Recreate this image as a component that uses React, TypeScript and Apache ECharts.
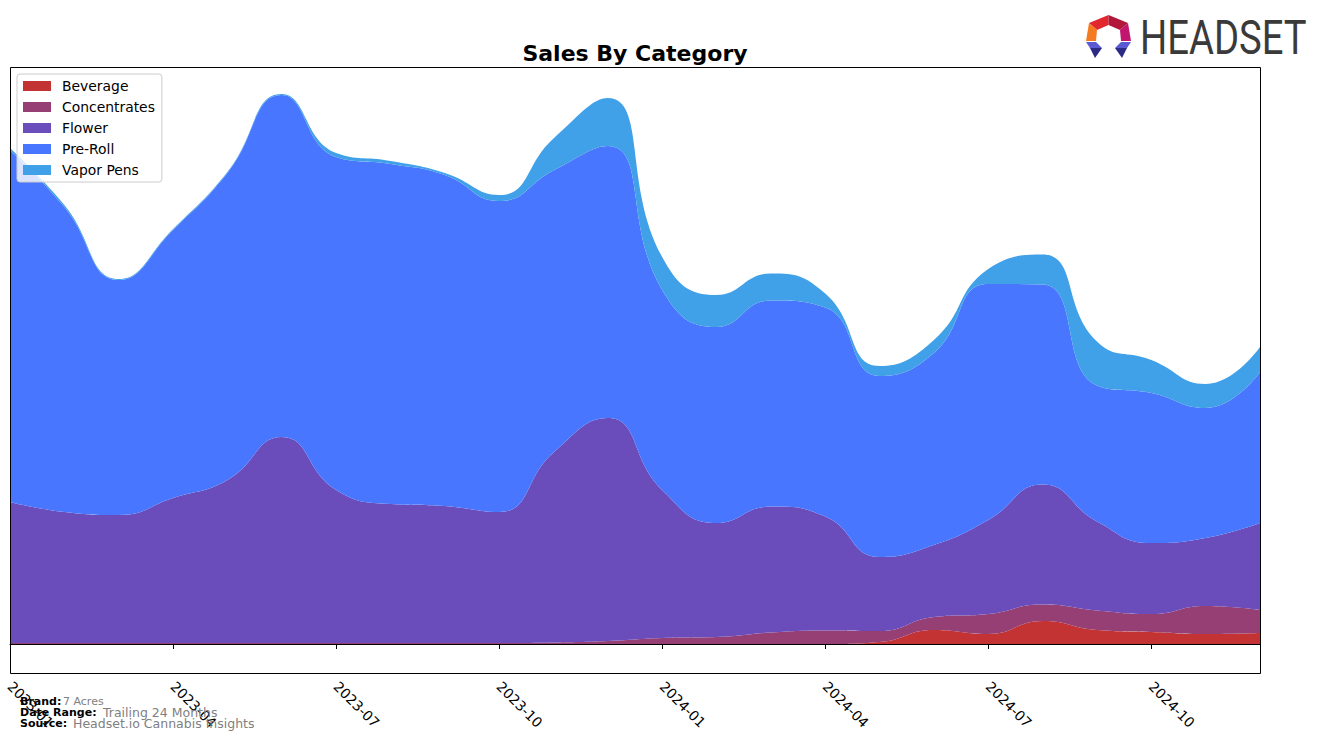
import React, { useEffect, useRef } from "react";
import * as echarts from "echarts";

const months = [
  "2023-01", "2023-02", "2023-03", "2023-04", "2023-05", "2023-06",
  "2023-07", "2023-08", "2023-09", "2023-10", "2023-11", "2023-12",
  "2024-01", "2024-02", "2024-03", "2024-04", "2024-05", "2024-06",
  "2024-07", "2024-08", "2024-09", "2024-10", "2024-11", "2024-12",
];

const beverage = [0, 0, 0, 0, 0, 0, 0, 0, 0, 0, 0, 0, 0, 0, 0, 0, 2, 14, 10, 23, 14, 12, 10, 11];
const concentrates = [1, 1, 1, 1, 1, 1, 1, 1, 1, 1, 1.5, 3, 6, 7, 11.5, 13.5, 11, 13, 20, 16.5, 19.5, 18, 28, 23];
const flower = [141, 131, 128, 145, 163, 206, 153, 139, 137, 131, 190, 223, 148, 114, 126, 114, 74, 72, 94, 120, 89, 71, 68, 87];
const preRoll = [352, 305, 235, 268, 307, 342, 333, 340, 331, 311, 282, 272, 200, 196, 206, 209, 181, 192, 236, 200, 136, 150, 130, 151];
const vaporPens = [2, 2, 1, 1, 1, 1, 4, 3, 2, 6, 32, 48, 33, 32, 27, 14, 10, 13, 15, 30, 44, 33, 24, 25];

const seriesNames = ["Beverage", "Concentrates", "Flower", "Pre-Roll", "Vapor Pens"];
const seriesColors = ["#c43333", "#963f75", "#6a4dbb", "#4876ff", "#40a0e8"];
const seriesData = [beverage, concentrates, flower, preRoll, vaporPens];

const titleText = "Sales By Category";
const footerLabels = ["Brand:", "Date Range:", "Source:"];
const footerValues = ["7 Acres", "Trailing 24 Months", "Headset.io Cannabis Insights"];

export default function App() {
  const ref = useRef<HTMLDivElement>(null);
  useEffect(() => {
    const chart = echarts.init(ref.current!, null, { renderer: "svg" });
    const font = "DejaVu Sans";
    const cx = 1108.5;
    const mirror = (pts: number[][]) => pts.map(([x, y]) => [2 * cx - x, y]);
    const T = [1108.5, 15], UR = [1128, 23], R = [1131, 41], UL = [1089, 23], L = [1086, 41];
    const iT = [1108.5, 25], iUR = [1120, 30], iR = [1121, 41], iUL = [1097, 30], iL = [1096, 41];
    const blUpper = [[1086, 42], [1096, 42], [1102, 48], [1090, 48]];
    const blLower = [[1090, 48], [1102, 48], [1095, 58]];

    chart.setOption({
      animation: false,
      backgroundColor: "#ffffff",
      grid: { left: 10, top: 67, width: 1250, height: 606, containLabel: false },
      legend: {
        data: seriesNames,
        orient: "vertical",
        left: 17,
        top: 74,
        icon: "rect",
        itemWidth: 28,
        itemHeight: 10,
        itemGap: 7,
        padding: [5, 7, 5, 6],
        backgroundColor: "rgba(255,255,255,0.8)",
        borderColor: "#cccccc",
        borderWidth: 1,
        borderRadius: 3,
        textStyle: { fontFamily: font, fontSize: 13.9, color: "#000", padding: [0, 0, 0, 6], lineHeight: 14 },
      },
      xAxis: {
        type: "category",
        data: months,
        boundaryGap: false,
        axisLine: { show: true, lineStyle: { color: "#000", width: 1 } },
        axisTick: { show: true, interval: 2, length: 5, lineStyle: { color: "#000" } },
        axisLabel: { interval: 2, rotate: -45, fontFamily: font, fontSize: 13.9, color: "#000", margin: 11 },
        splitLine: { show: false },
      },
      yAxis: { type: "value", min: -29, max: 577, show: false },
      series: seriesNames.map((name, i) => ({
        name,
        type: "line",
        stack: "total",
        smooth: 0.5,
        symbol: "none",
        data: seriesData[i],
        itemStyle: { color: seriesColors[i] },
        lineStyle: { width: 0 },
        areaStyle: { color: seriesColors[i], opacity: 1 },
        z: 2,
      })),
      graphic: [
        {
          type: "rect",
          shape: { x: 10.5, y: 67.5, width: 1250, height: 606 },
          style: { fill: "none", stroke: "#000", lineWidth: 1 },
          z: 100,
          silent: true,
        },
        {
          type: "text",
          x: 635,
          y: 53,
          style: { text: titleText, fontFamily: font, fontWeight: "bold", fontSize: 22, fill: "#000", textAlign: "center", textVerticalAlign: "middle", align: "center", verticalAlign: "middle" },
          z: 100,
        },
        ...footerLabels.map((t, i) => ({
          type: "text",
          x: 20,
          y: [701.5, 712.5, 723][i],
          style: { text: t, fontFamily: font, fontWeight: "bold", fontSize: 11, fill: "#000", textVerticalAlign: "middle", verticalAlign: "middle" },
          z: 100,
        })),
        ...footerValues.map((t, i) => ({
          type: "text",
          x: [63, 103, 73][i],
          y: [701.5, 712.5, 723.5][i],
          style: { text: t, fontFamily: font, fontSize: [11, 12.5, 12.5][i], fill: "#808080", textVerticalAlign: "middle", verticalAlign: "middle" },
          z: 100,
        })),
        { type: "polygon", shape: { points: [T, UL, iUL, iT] }, style: { fill: "#e0282e" }, z: 100 },
        { type: "polygon", shape: { points: [T, UR, iUR, iT] }, style: { fill: "#b0173a" }, z: 100 },
        { type: "polygon", shape: { points: [UL, L, iL, iUL] }, style: { fill: "#f47b20" }, z: 100 },
        { type: "polygon", shape: { points: [UR, R, iR, iUR] }, style: { fill: "#c2166e" }, z: 100 },
        { type: "polygon", shape: { points: blUpper }, style: { fill: "#5a5ad2" }, z: 100 },
        { type: "polygon", shape: { points: blLower }, style: { fill: "#2b2b86" }, z: 100 },
        { type: "polygon", shape: { points: mirror(blUpper) }, style: { fill: "#5a5ad2" }, z: 100 },
        { type: "polygon", shape: { points: mirror(blLower) }, style: { fill: "#2b2b86" }, z: 100 },
        {
          type: "text",
          x: 1140,
          y: 37,
          scaleX: 0.78,
          style: { text: "HEADSET", fontFamily: "Roboto", fontSize: 49, fill: "#3a3a3a", textVerticalAlign: "middle", verticalAlign: "middle" },
          z: 100,
        },
      ],
    });
    return () => chart.dispose();
  }, []);
  return (
    <div
      ref={ref}
      style={{ position: "fixed", left: 0, top: 0, width: 1324, height: 743, background: "#fff" }}
    />
  );
}
